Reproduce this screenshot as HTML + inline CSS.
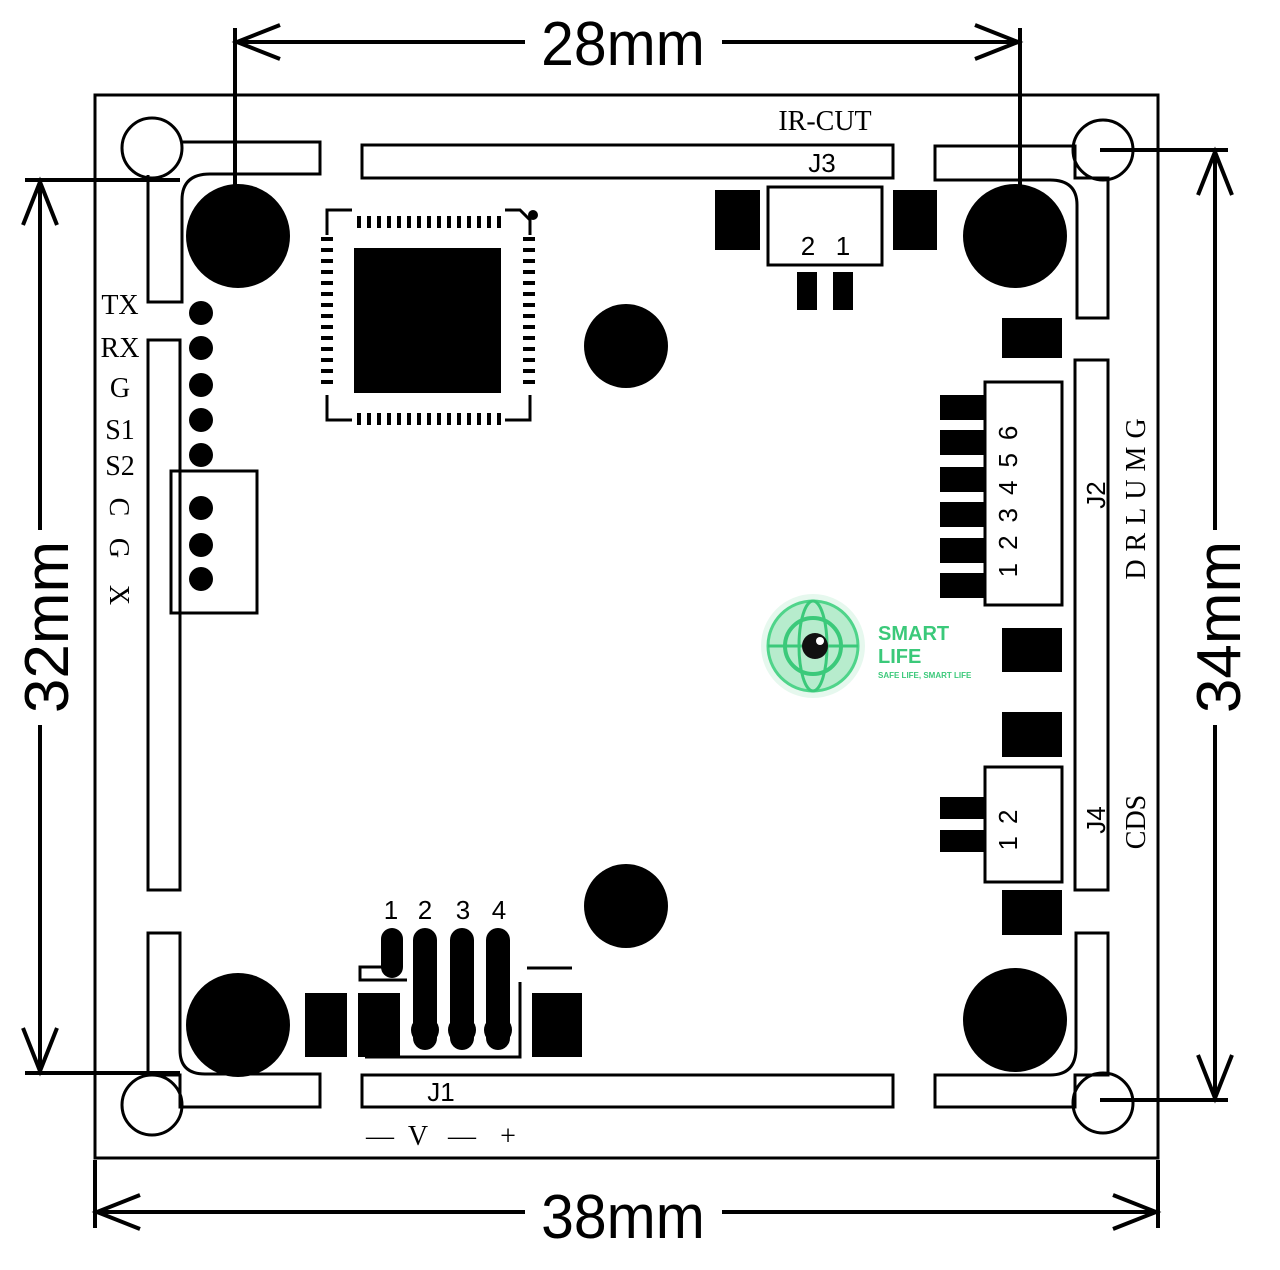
<!DOCTYPE html>
<html><head><meta charset="utf-8"><style>
html,body{margin:0;padding:0;background:#fff;}
svg{display:block;}
text{font-family:"Liberation Serif",serif;fill:#000;}
.s{font-family:"Liberation Sans",sans-serif;}
</style></head><body>
<svg width="1280" height="1270" viewBox="0 0 1280 1270" xmlns="http://www.w3.org/2000/svg">
<g fill="none" stroke="#000" stroke-width="3">
<rect x="95" y="95" width="1063" height="1063"/>
<circle cx="152" cy="148" r="30"/>
<circle cx="1103" cy="150" r="30"/>
<circle cx="152" cy="1105" r="30"/>
<circle cx="1103" cy="1103" r="30"/>
<path d="M182 142 H320 V174 H210 Q182 174 182 200 V302 H148 V175"/>
<path d="M935 146 H1075 V178 H1108 V318 H1077 V205 Q1077 180 1050 180 H935 Z"/>
<path d="M148 933 H180 V1050 Q180 1074 205 1074 H320 V1107 H180 V1075 H148 Z"/>
<path d="M1108 933 H1076 V1048 Q1076 1075 1050 1075 H935 V1107 H1075 V1075 H1108 Z"/>
<rect x="362" y="145" width="531" height="33"/>
<rect x="362" y="1075" width="531" height="32"/>
<rect x="148" y="340" width="32" height="550"/>
<rect x="1075" y="360" width="33" height="530"/>
<rect x="171" y="471" width="86" height="142"/>
<rect x="768" y="187" width="114" height="78"/>
<rect x="985" y="382" width="77" height="223"/>
<rect x="985" y="767" width="77" height="115"/>
<path d="M352 210 H327 V235 M327 395 V420 H352 M505 420 H530 V395 M505 210 H520 L530 220 V235"/>
<path d="M383 967 H360 V980 H407 M527 968 H572 M520 982 V1057 H365"/>
</g>
<g fill="#000">
<circle cx="238" cy="236" r="52"/>
<circle cx="1015" cy="236" r="52"/>
<circle cx="238" cy="1025" r="52"/>
<circle cx="1015" cy="1020" r="52"/>
<circle cx="626" cy="346" r="42"/>
<circle cx="626" cy="906" r="42"/>
<circle cx="533" cy="215" r="5"/>
<rect x="354" y="248" width="147" height="145"/>
<circle cx="201" cy="313" r="12"/><circle cx="201" cy="348" r="12"/><circle cx="201" cy="385" r="12"/>
<circle cx="201" cy="420" r="12"/><circle cx="201" cy="455" r="12"/><circle cx="201" cy="508" r="12"/>
<circle cx="201" cy="545" r="12"/><circle cx="201" cy="579" r="12"/>
<rect x="715" y="190" width="45" height="60"/><rect x="893" y="190" width="44" height="60"/>
<rect x="797" y="272" width="20" height="38"/><rect x="833" y="272" width="20" height="38"/>
<rect x="1002" y="318" width="60" height="40"/>
<rect x="1002" y="628" width="60" height="44"/>
<rect x="1002" y="712" width="60" height="45"/>
<rect x="1002" y="890" width="60" height="45"/>
<rect x="940" y="395" width="45" height="25"/><rect x="940" y="430" width="45" height="25"/>
<rect x="940" y="467" width="45" height="25"/><rect x="940" y="502" width="45" height="25"/>
<rect x="940" y="538" width="45" height="25"/><rect x="940" y="573" width="45" height="25"/>
<rect x="940" y="797" width="45" height="22"/><rect x="940" y="830" width="45" height="22"/>
<rect x="305" y="993" width="42" height="64"/>
<rect x="358" y="993" width="42" height="64"/>
<rect x="532" y="993" width="50" height="64"/>
<rect x="381" y="928" width="22" height="50" rx="11"/>
<rect x="413" y="928" width="24" height="122" rx="12"/>
<rect x="450" y="928" width="24" height="122" rx="12"/>
<rect x="486" y="928" width="24" height="122" rx="12"/>
<circle cx="425" cy="1030" r="14"/><circle cx="462" cy="1030" r="14"/><circle cx="498" cy="1030" r="14"/>
</g>
<g fill="#000">
<g id="tp">
<rect x="357" y="216" width="4" height="12"/><rect x="367" y="216" width="4" height="12"/><rect x="377" y="216" width="4" height="12"/><rect x="387" y="216" width="4" height="12"/><rect x="397" y="216" width="4" height="12"/><rect x="407" y="216" width="4" height="12"/><rect x="417" y="216" width="4" height="12"/><rect x="427" y="216" width="4" height="12"/><rect x="437" y="216" width="4" height="12"/><rect x="447" y="216" width="4" height="12"/><rect x="457" y="216" width="4" height="12"/><rect x="467" y="216" width="4" height="12"/><rect x="477" y="216" width="4" height="12"/><rect x="487" y="216" width="4" height="12"/><rect x="497" y="216" width="4" height="12"/>
</g>
<use href="#tp" y="197"/>
<g id="lp">
<rect x="321" y="237" width="12" height="4"/><rect x="321" y="248" width="12" height="4"/><rect x="321" y="259" width="12" height="4"/><rect x="321" y="270" width="12" height="4"/><rect x="321" y="281" width="12" height="4"/><rect x="321" y="292" width="12" height="4"/><rect x="321" y="303" width="12" height="4"/><rect x="321" y="314" width="12" height="4"/><rect x="321" y="325" width="12" height="4"/><rect x="321" y="336" width="12" height="4"/><rect x="321" y="347" width="12" height="4"/><rect x="321" y="358" width="12" height="4"/><rect x="321" y="369" width="12" height="4"/><rect x="321" y="380" width="12" height="4"/>
</g>
<use href="#lp" x="202"/>
</g>
<g stroke="#000" stroke-width="4" fill="none">
<line x1="235" y1="28" x2="235" y2="190"/>
<line x1="1020" y1="28" x2="1020" y2="190"/>
<line x1="235" y1="42" x2="525" y2="42"/><line x1="722" y1="42" x2="1020" y2="42"/>
<path d="M280 25 L237 42 L280 59 M975 25 L1018 42 L975 59"/>
<line x1="95" y1="1160" x2="95" y2="1228"/>
<line x1="1158" y1="1160" x2="1158" y2="1228"/>
<line x1="95" y1="1212" x2="525" y2="1212"/><line x1="722" y1="1212" x2="1158" y2="1212"/>
<path d="M140 1195 L97 1212 L140 1229 M1113 1195 L1156 1212 L1113 1229"/>
<line x1="25" y1="180" x2="180" y2="180"/>
<line x1="25" y1="1073" x2="180" y2="1073"/>
<line x1="40" y1="180" x2="40" y2="530"/><line x1="40" y1="725" x2="40" y2="1073"/>
<path d="M23 225 L40 182 L57 225 M23 1028 L40 1071 L57 1028"/>
<line x1="1100" y1="150" x2="1228" y2="150"/>
<line x1="1100" y1="1100" x2="1228" y2="1100"/>
<line x1="1215" y1="150" x2="1215" y2="530"/><line x1="1215" y1="725" x2="1215" y2="1100"/>
<path d="M1198 195 L1215 152 L1232 195 M1198 1055 L1215 1098 L1232 1055"/>
</g>
<text class="s" x="623" y="65" font-size="62" text-anchor="middle" transform="translate(623,0) scale(0.95,1) translate(-623,0)">28mm</text>
<text class="s" x="623" y="1238" font-size="62" text-anchor="middle" transform="translate(623,0) scale(0.95,1) translate(-623,0)">38mm</text>
<text class="s" transform="translate(68,627) rotate(-90)" font-size="62" text-anchor="middle">32mm</text>
<text class="s" transform="translate(1240,627) rotate(-90)" font-size="62" text-anchor="middle">34mm</text>
<g font-size="28">
<text x="120" y="314" text-anchor="middle">TX</text>
<text x="120" y="357" text-anchor="middle">RX</text>
<text x="120" y="397" text-anchor="middle">G</text>
<text x="120" y="439" text-anchor="middle">S1</text>
<text x="120" y="475" text-anchor="middle">S2</text>
<text transform="translate(110,507) rotate(90)" text-anchor="middle">C</text>
<text transform="translate(110,548) rotate(90)" text-anchor="middle">G</text>
<text transform="translate(110,595) rotate(90)" text-anchor="middle">X</text>
<text x="825" y="130" text-anchor="middle">IR-CUT</text>
<text transform="translate(1145,495) rotate(-90)" text-anchor="middle" letter-spacing="8">DRLUMG</text>
<text transform="translate(1145,822) rotate(-90)" text-anchor="middle">CDS</text>
<text x="380" y="1145" text-anchor="middle">—</text>
<text x="418" y="1145" text-anchor="middle">V</text>
<text x="462" y="1145" text-anchor="middle">—</text>
<text x="508" y="1145" text-anchor="middle">+</text>
</g>
<g class="s" font-size="26">
<text class="s" x="822" y="172" text-anchor="middle">J3</text>
<text class="s" x="808" y="255" text-anchor="middle">2</text>
<text class="s" x="843" y="255" text-anchor="middle">1</text>
<text class="s" x="441" y="1101" text-anchor="middle">J1</text>
<text class="s" x="391" y="919" text-anchor="middle">1</text>
<text class="s" x="425" y="919" text-anchor="middle">2</text>
<text class="s" x="463" y="919" text-anchor="middle">3</text>
<text class="s" x="499" y="919" text-anchor="middle">4</text>
<text class="s" transform="translate(1105,495) rotate(-90)" text-anchor="middle">J2</text>
<text class="s" transform="translate(1105,820) rotate(-90)" text-anchor="middle">J4</text>
<text class="s" transform="translate(1017,495) rotate(-90)" text-anchor="middle" letter-spacing="13">123456</text>
<text class="s" transform="translate(1017,824) rotate(-90)" text-anchor="middle" letter-spacing="12">12</text>
</g>
<g>
<circle cx="813" cy="646" r="52" fill="#e6f8ee"/>
<circle cx="813" cy="646" r="45" fill="#b7eccd" stroke="#4fd48a" stroke-width="3"/>
<circle cx="813" cy="646" r="28" fill="none" stroke="#3bc97a" stroke-width="4"/>
<ellipse cx="813" cy="646" rx="14" ry="45" fill="none" stroke="#3bc97a" stroke-width="3"/>
<line x1="768" y1="646" x2="858" y2="646" stroke="#3bc97a" stroke-width="3"/>
<circle cx="815" cy="646" r="13" fill="#111"/>
<circle cx="820" cy="641" r="4" fill="#fff"/>
<text class="s" x="878" y="640" font-size="20" font-weight="bold" style="fill:#3bc97a">SMART</text>
<text class="s" x="878" y="663" font-size="20" font-weight="bold" style="fill:#3bc97a">LIFE</text>
<text class="s" x="878" y="678" font-size="8" font-weight="bold" style="fill:#3bc97a">SAFE LIFE, SMART LIFE</text>
</g>
</svg>
</body></html>
